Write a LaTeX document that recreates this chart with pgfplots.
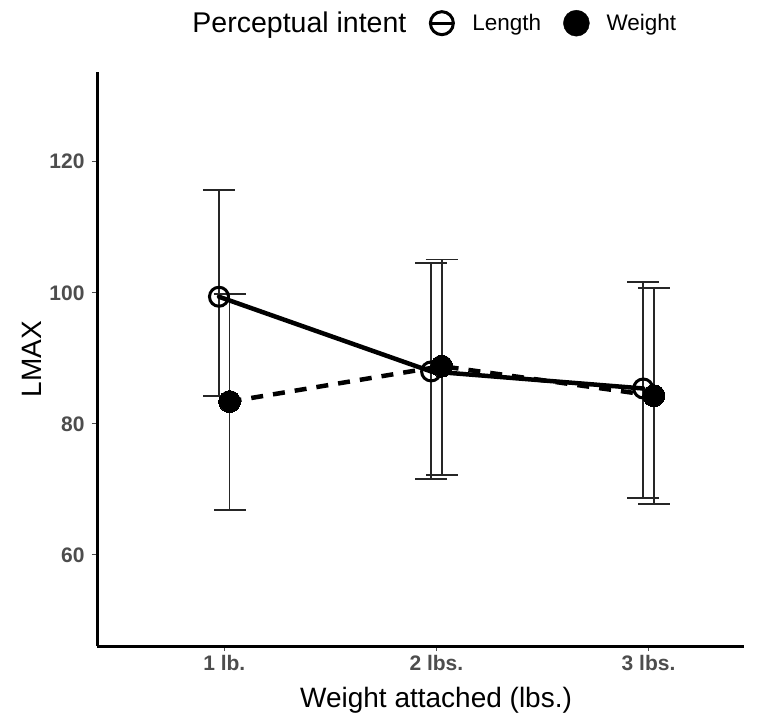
\documentclass[border=0pt]{standalone}
\usepackage{fontspec}
\setmainfont{Liberation Sans}
\usepackage{pgfplots}
\pgfplotsset{compat=1.18}
\definecolor{tickgray}{HTML}{4D4D4D}
\begin{document}
\begin{tikzpicture}[x=1pt,y=1pt]
\useasboundingbox (0,0) rectangle (762,712);
\begin{axis}[
  at={(97pt,66pt)}, anchor=south west,
  scale only axis, width=647pt, height=574pt,
  xmin=0.4, xmax=3.45, ymin=46.1, ymax=133.7,
  axis x line*=bottom, axis y line*=left,
  axis line style={line width=3pt, -},
  xtick={1,2,3}, xticklabels={1 lb., 2 lbs., 3 lbs.},
  ytick={60,80,100,120},
  tick align=outside, major tick length=5pt,
  tick style={tickgray, line width=1pt},
  ticklabel style={font=\fontsize{21}{25}\selectfont\bfseries, text=tickgray},
  yticklabel style={xshift=-4pt},
  xticklabel style={yshift=-1pt},
  /pgf/number format/assume math mode=true,
  xlabel={Weight attached (lbs.)}, ylabel={LMAX},
  label style={font=\fontsize{28}{32}\selectfont},
  xlabel style={at={(rel axis cs:0.524,0)}, anchor=base, yshift=-61pt},
  ylabel style={at={(rel axis cs:0,0.5)}, anchor=center, yshift=65.5pt},
  legend style={at={(rel axis cs:0.121,1.085)}, anchor=west, draw=none, fill=none,
    inner sep=0pt, font=\fontsize{22.5}{26}\selectfont,
    /tikz/every odd column/.append style={column sep=15pt},
    /tikz/every even column/.append style={column sep=20pt}},
  legend columns=-1,
  clip=false,
]
% error bars
\addplot[forget plot, only marks, mark=none,
  error bars/.cd, y dir=both, y explicit, error mark=|,
  error bar style={line width=1.7pt, black!85},
  error mark options={black!85, line width=1.7pt, mark size=16pt}]
  coordinates {(0.975,99.4) += (0,16.3) -= (0,15.2)
               (1.975,88.0) += (0,16.5) -= (0,16.4)
               (2.975,85.4) += (0,16.2) -= (0,16.7)};
\addplot[forget plot, only marks, mark=none,
  error bars/.cd, y dir=both, y explicit, error mark=|,
  error bar style={line width=1.7pt, black!85},
  error mark options={black!85, line width=1.7pt, mark size=16pt}]
  coordinates {(1.025,83.4) += (0,16.4) -= (0,16.5)
               (2.025,88.8) += (0,16.3) -= (0,16.6)
               (3.025,84.3) += (0,16.4) -= (0,16.5)};
% lines
\addplot[forget plot, black, line width=4.5pt, mark=none]
  coordinates {(0.975,99.4) (1.975,88.0) (2.975,85.4)};
\addplot[forget plot, black, line width=4.5pt, dash pattern=on 12pt off 10pt, mark=none]
  coordinates {(1.025,83.4) (2.025,88.8) (3.025,84.3)};
% points
\addplot[forget plot, only marks, mark=o, mark size=9.5pt, mark options={line width=3pt, black}]
  coordinates {(0.975,99.4) (1.975,88.0) (2.975,85.4)};
\addplot[forget plot, only marks, mark=*, mark size=11pt, mark options={black, fill=black, line width=0pt}]
  coordinates {(1.025,83.4) (2.025,88.8) (3.025,84.3)};
% legend
\addlegendimage{empty legend}
\addlegendentry{\fontsize{28.5}{32}\selectfont Perceptual intent\hspace{16pt}}
\addlegendimage{legend image code/.code={\draw[line width=3pt] (0pt,0pt) circle (11.5pt); \draw[line width=3pt] (-12pt,0pt) -- (12pt,0pt);}}
\addlegendentry{Length}
\addlegendimage{legend image code/.code={\fill[black] (0pt,0pt) circle (13pt);}}
\addlegendentry{Weight}
\end{axis}
\end{tikzpicture}
\end{document}
